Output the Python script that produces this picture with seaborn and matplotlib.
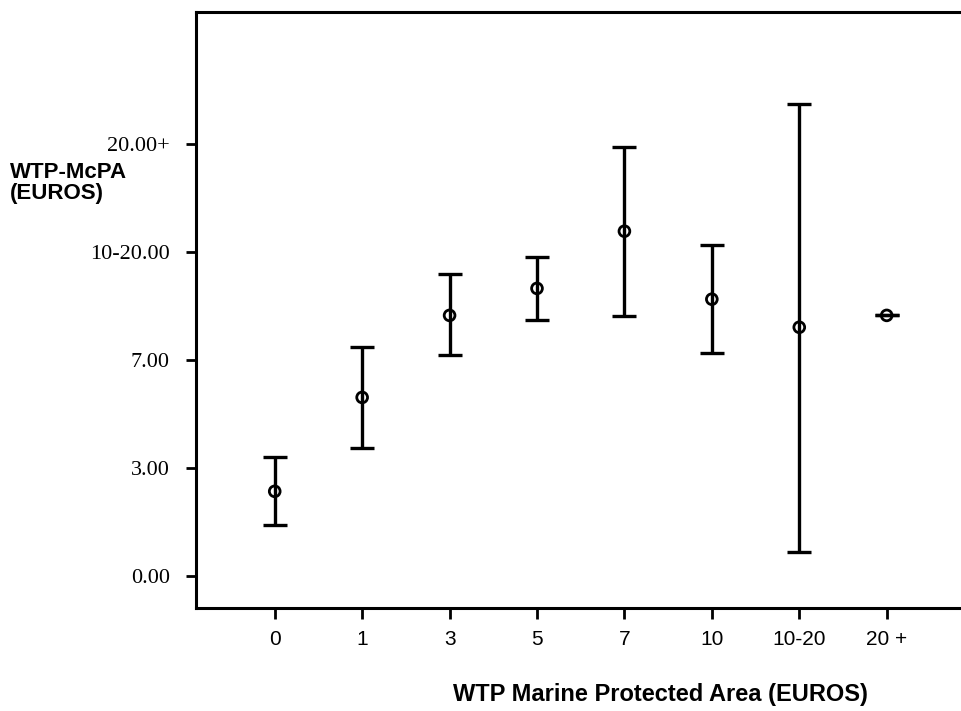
import numpy as np
import pandas as pd
import matplotlib
matplotlib.use("Agg")
import matplotlib.pyplot as plt
import seaborn as sns

# Data (ordinal scale positions)
categories = ["0", "1", "3", "5", "7", "10", "10-20", "20 +"]
mean_vals = [0.78, 1.65, 2.41, 2.66, 3.19, 2.56, 2.30, 2.41]
low_vals = [0.47, 1.18, 2.04, 2.37, 2.40, 2.06, 0.22, 2.41]
high_vals = [1.10, 2.12, 2.79, 2.95, 3.97, 3.06, 4.37, 2.41]
y_tick_labels = ["0.00", "3.00", "7.00", "10-20.00", "20.00+"]

sns.set_style("ticks")
plt.rcParams["font.family"] = ["Liberation Sans", "DejaVu Sans"]
plt.rcParams["text.color"] = "black"
plt.rcParams["axes.labelcolor"] = "black"

df = pd.DataFrame({"cat": categories, "mean": mean_vals, "low": low_vals, "high": high_vals})
df["pos"] = np.arange(len(df))

fig = plt.figure(figsize=(9.61, 7.11), dpi=100)
ax = fig.add_axes([0.204, 0.145, 0.796, 0.838])

yerr = [df["mean"] - df["low"], df["high"] - df["mean"]]
ax.errorbar(df["pos"], df["mean"], yerr=yerr, fmt="none", ecolor="black",
            elinewidth=2.4, capsize=8.5, capthick=2.4, zorder=2)
sns.scatterplot(data=df, x="pos", y="mean", ax=ax, marker="o", s=60,
                facecolor="none", edgecolor="black", linewidth=2.0, zorder=3,
                legend=False)

ax.set_xlim(-0.9, 7.85)
ax.set_ylim(-0.3, 5.22)
ax.set_xticks(df["pos"])
ax.set_xticklabels(categories, fontsize=15, family="Liberation Sans", color="black")
ax.set_yticks(np.arange(len(y_tick_labels)))
ax.set_yticklabels(y_tick_labels, fontsize=16, family="Liberation Serif", color="black")

ax.tick_params(axis="x", direction="out", length=8, width=2, pad=8, colors="black")
ax.tick_params(axis="y", direction="out", length=7, width=2, pad=12, colors="black")

for side in ["left", "bottom", "top"]:
    ax.spines[side].set_visible(True)
    ax.spines[side].set_linewidth(2.2)
    ax.spines[side].set_color("black")
ax.spines["right"].set_visible(False)

ax.set_xlabel("WTP Marine Protected Area (EUROS)", fontsize=17, fontweight="bold",
              va="center", color="black")
ax.xaxis.set_label_coords(0.607, -0.146)
ax.set_ylabel("WTP-McPA\n(EUROS)", fontsize=16, fontweight="bold", rotation=0,
              ha="left", va="center", multialignment="left", linespacing=1.05,
              color="black")
ax.yaxis.set_label_coords(-0.243, 0.713)

fig.savefig("out.png", dpi=100)
